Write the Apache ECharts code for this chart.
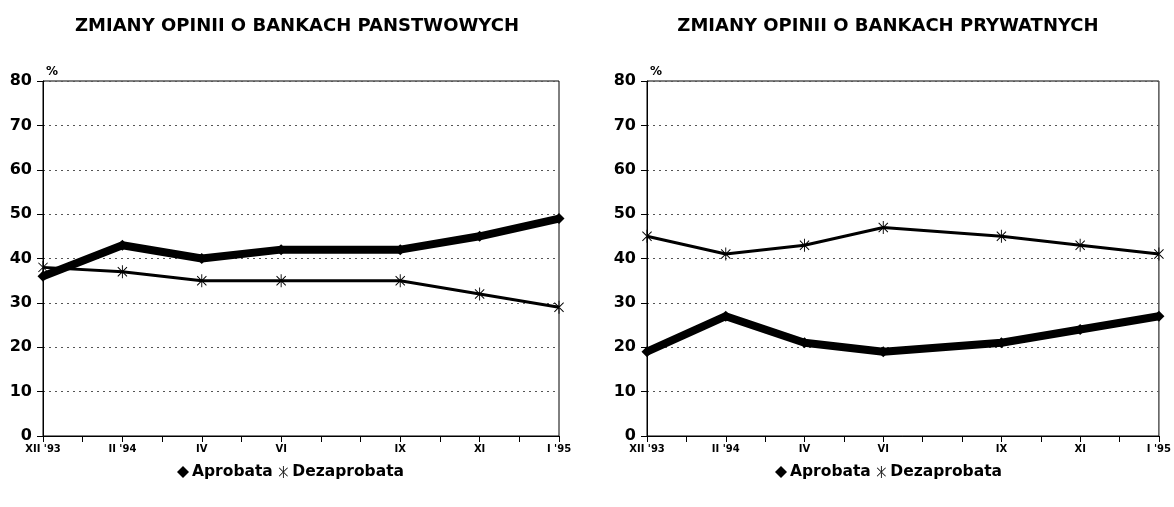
<!DOCTYPE html>
<html>
<head>
<meta charset="utf-8">
<script src="https://cdn.jsdelivr.net/npm/echarts@6/dist/echarts.min.js"></script>
<style>
  html, body { margin: 0; padding: 0; background: #fff; }
  #chart { width: 1174px; height: 507px; }
</style>
</head>
<body>
<div id="chart"></div>
<script>
// months since XII '93, so the points sit at their real dates
var months = [0, 2, 4, 6, 9, 11, 13];
var monthLabels = ["XII '93", "II '94", "IV", "VI", "IX", "XI", "I '95"];
var yTicks = [0, 10, 20, 30, 40, 50, 60, 70, 80];

var titles = ['ZMIANY OPINII O BANKACH PANSTWOWYCH', 'ZMIANY OPINII O BANKACH PRYWATNYCH'];
var seriesNames = ['Aprobata', 'Dezaprobata'];

var panstwoweAprobata = [36, 43, 40, 42, 42, 45, 49];
var panstwoweDezaprobata = [38, 37, 35, 35, 35, 32, 29];
var prywatneAprobata = [19, 27, 21, 19, 21, 24, 27];
var prywatneDezaprobata = [45, 41, 43, 47, 45, 43, 41];

var star = 'path://M-0.7,-10 L0.7,-10 L0.7,10 L-0.7,10 Z M6.6,7.6 L7.6,6.6 L-6.6,-7.6 L-7.6,-6.6 Z M-6.6,7.6 L-7.6,6.6 L6.6,-7.6 L7.6,-6.6 Z';
var font = "'DejaVu Sans', 'Liberation Sans', sans-serif";

function pairs(vals) {
  return vals.map(function (v, i) { return [months[i], v]; });
}

function xAxis(idx) {
  return {
    type: 'value', gridIndex: idx, min: 0, max: 13, interval: 1,
    axisLine: { show: true, lineStyle: { color: '#000', width: 1 } },
    axisTick: { show: true, length: 6, lineStyle: { color: '#000' } },
    splitLine: { show: false },
    axisLabel: {
      color: '#000', fontFamily: font, fontWeight: 'bold', fontSize: 10, margin: 8,
      formatter: function (v) {
        var i = months.indexOf(v);
        return i >= 0 ? monthLabels[i] : '';
      }
    }
  };
}

function yAxis(idx) {
  return {
    type: 'value', gridIndex: idx, min: yTicks[0], max: yTicks[yTicks.length - 1], interval: 10,
    name: '%', nameGap: 3,
    nameTextStyle: { color: '#000', fontFamily: font, fontWeight: 'bold', fontSize: 12, align: 'left', padding: [0, 0, 0, 3] },
    axisLine: { show: true, lineStyle: { color: '#000', width: 1 } },
    axisTick: { show: true, length: 6, lineStyle: { color: '#000' } },
    splitLine: { show: true, lineStyle: { color: '#555', type: [2, 4], width: 1 } },
    axisLabel: { color: '#000', fontFamily: font, fontWeight: 'bold', fontSize: 16, margin: 11 }
  };
}

function seriesPair(idx, apr, dez) {
  return [{
    name: seriesNames[0], type: 'line', xAxisIndex: idx, yAxisIndex: idx,
    data: pairs(apr), symbol: 'diamond', symbolSize: 11,
    itemStyle: { color: '#000' },
    lineStyle: { color: '#000', width: 8 },
    silent: true
  }, {
    name: seriesNames[1], type: 'line', xAxisIndex: idx, yAxisIndex: idx,
    data: pairs(dez), symbol: star, symbolSize: 13, symbolKeepAspect: true,
    itemStyle: { color: '#000' },
    lineStyle: { color: '#000', width: 3 },
    silent: true
  }];
}

function legend(idx, left) {
  return {
    left: left, top: 459, orient: 'horizontal', itemGap: 6, itemWidth: 12, itemHeight: 12,
    data: [{ name: seriesNames[0], icon: 'diamond' }, { name: seriesNames[1], icon: star }],
    textStyle: { color: '#000', fontFamily: font, fontWeight: 'bold', fontSize: 15.5, padding: [0, 0, 0, -2] },
    selectedMode: false
  };
}

var myChart = echarts.init(document.getElementById('chart'));
var option = {
  animation: false,
  title: [
    { text: titles[0], left: 292, top: 12, textAlign: 'center',
      textStyle: { color: '#000', fontFamily: font, fontWeight: 'bold', fontSize: 18 } },
    { text: titles[1], left: 883, top: 12, textAlign: 'center',
      textStyle: { color: '#000', fontFamily: font, fontWeight: 'bold', fontSize: 18 } }
  ],
  grid: [
    { left: 43, right: 615, top: 81, bottom: 71, show: true, borderColor: '#000', borderWidth: 1 },
    { left: 647, right: 15, top: 81, bottom: 71, show: true, borderColor: '#000', borderWidth: 1 }
  ],
  legend: [legend(0, 172), legend(1, 770)],
  xAxis: [xAxis(0), xAxis(1)],
  yAxis: [yAxis(0), yAxis(1)],
  series: seriesPair(0, panstwoweAprobata, panstwoweDezaprobata)
    .concat(seriesPair(1, prywatneAprobata, prywatneDezaprobata))
};
myChart.setOption(option);
</script>
</body>
</html>
